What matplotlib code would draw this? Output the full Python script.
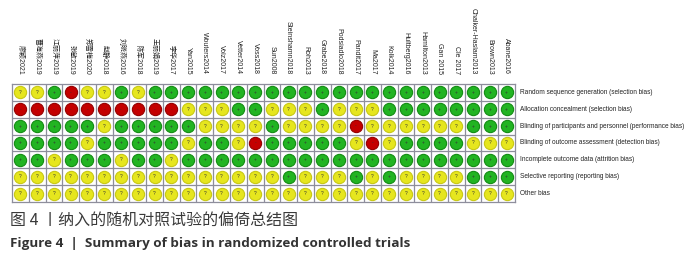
import matplotlib
matplotlib.use('Agg')
import matplotlib.pyplot as plt

plt.rcParams['font.family'] = ['Liberation Sans', 'Noto Sans CJK SC']

# Studies (columns), domains (rows), judgements: '+' low, '?' unclear, '-' high
studies = ['廖颖2021', '曹海燕2019', '江丽萍2019', '张敏2019', '郑雪梅2020',
           '赵静2018', '刘晓燕2016', '陈军2018', '王丽娟2019', '李华2017',
           'Yan2015', 'Wouters2014', 'Volz2017', 'Vetter2014', 'Voss2018',
           'Sun2008', 'Steinshamn2018', 'Roh2013', 'Grabe2018',
           'Podsiadlo2018', 'Pandit2017', 'Ma2017', 'Kolk2014',
           'Hultberg2016', 'Hamilton2013', 'Gan 2015', 'Cle 2017',
           'Chalker-Haslam2013', 'Brown2013', 'Abane2016']

domains = ['Random sequence generation (selection bias)',
           'Allocation concealment (selection bias)',
           'Blinding of participants and personnel (performance bias)',
           'Blinding of outcome assessment (detection bias)',
           'Incomplete outcome data (attrition bias)',
           'Selective reporting (reporting bias)',
           'Other bias']

judgements = [
    '??+-??+?++' + '++++++++++' + '++++++++++',
    '----------' + '???++???+?' + '??++++++++',
    '+++++?++++' + '+????+????' + '-??????+++',
    '++++?+++++' + '?++?-+++++' + '?-?++++???',
    '++?+++?++?' + '++++++++++' + '++++++++++',
    '??????????' + '??????+???' + '+?+????+++',
    '??????????' + '??????????' + '??????????',
]

colors = {'+': '#22b422', '?': '#e6e61e', '-': '#c40000'}
edges = {'+': '#148c14', '?': '#c8c814', '-': '#960000'}

fig = plt.figure(figsize=(7, 2.6), dpi=100)
ax = fig.add_axes([12 / 700, 1 - 202 / 260, 503 / 700, 118 / 260])

for r, row in enumerate(judgements):
    for c, j in enumerate(row):
        ax.scatter(c, r, s=78, color=colors[j], edgecolors=edges[j],
                   linewidths=0.8, zorder=3)
        ax.text(c, r, j, ha='center', va='center', fontsize=3.5,
                color='#333333', zorder=4)

ax.set_xlim(-0.5, len(studies) - 0.5)
ax.set_ylim(len(domains) - 0.5, -0.5)
ax.set_xticks([i + 0.5 for i in range(len(studies) - 1)], minor=True)
ax.set_yticks([i + 0.5 for i in range(len(domains) - 1)], minor=True)
ax.grid(which='minor', color='#8e8e9c', linewidth=0.9)
for s in ax.spines.values():
    s.set_color('#8e8e9c')
    s.set_linewidth(0.9)

ax.set_xticks(range(len(studies)))
ax.set_xticklabels(studies, rotation=-90, fontsize=5, color='#222222')
ax.xaxis.tick_top()
ax.tick_params(axis='x', which='both', length=0, pad=7)
ax.tick_params(axis='y', which='both', length=0, labelleft=False)
ax.set_yticks([])

for r, d in enumerate(domains):
    ax.text(len(studies) - 0.5 + 0.3, r, d, ha='left', va='center',
            fontsize=4.7, color='#222222')

fig.text(10 / 700, 1 - 220 / 260, '图 4 丨纳入的随机对照试验的偏倚总结图',
         fontsize=11.5, color='#3a3a3a', va='center', ha='left',
         fontweight='medium', family=['Noto Sans CJK SC'])
fig.text(10 / 700, 1 - 243 / 260,
         'Figure 4  |  Summary of bias in randomized controlled trials',
         fontsize=9.7, fontweight='bold', color='#333333', va='center',
         ha='left', family=['Open Sans'])

fig.savefig('out.png', dpi=100)
